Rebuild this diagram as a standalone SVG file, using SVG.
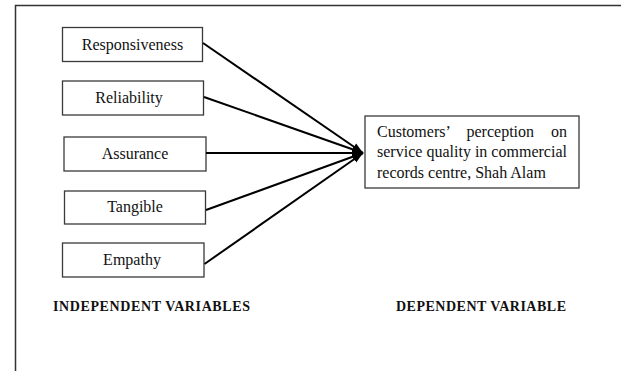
<svg xmlns="http://www.w3.org/2000/svg" width="621" height="371" viewBox="0 0 621 371">
  <style>
    .box { fill: #ffffff; stroke: #3a3a3a; stroke-width: 1.3; }
    .lbl { font-family: "Liberation Serif", "Times New Roman", serif; font-size: 16px; fill: #111111; }
    .mid { text-anchor: middle; }
    .hdr { font-family: "Liberation Serif", "Times New Roman", serif; font-size: 14px; font-weight: bold; fill: #111111; }
    .link { stroke: #000000; stroke-width: 2; fill: none; marker-end: url(#head); }
    .frame { stroke: #333333; stroke-width: 1.5; fill: none; }
  </style>
  <defs>
    <marker id="head" markerUnits="userSpaceOnUse" markerWidth="12" markerHeight="10" refX="11" refY="5" orient="auto">
      <path d="M0,1 L11,5 L0,9 Z" fill="#000000"/>
    </marker>
  </defs>

  <rect width="621" height="371" fill="#ffffff"/>

  <!-- page frame: top and left rules -->
  <path class="frame" d="M15.5,371 L15.5,5.5 L621,5.5"/>

  <!-- independent variables -->
  <g id="responsiveness">
    <rect class="box" x="62.5" y="27.5" width="140" height="34"/>
    <text class="lbl mid" x="132.5" y="49.5">Responsiveness</text>
  </g>
  <g id="reliability">
    <rect class="box" x="62.5" y="81" width="141" height="34"/>
    <text class="lbl mid" x="129" y="103.3">Reliability</text>
  </g>
  <g id="assurance">
    <rect class="box" x="64" y="137" width="142" height="34"/>
    <text class="lbl mid" x="135" y="158.5">Assurance</text>
  </g>
  <g id="tangible">
    <rect class="box" x="64.5" y="191" width="141" height="33"/>
    <text class="lbl mid" x="135" y="212">Tangible</text>
  </g>
  <g id="empathy">
    <rect class="box" x="62.5" y="243" width="141.5" height="34"/>
    <text class="lbl mid" x="132" y="264.5">Empathy</text>
  </g>

  <!-- dependent variable -->
  <g id="perception">
    <rect class="box" x="365" y="116" width="214" height="72"/>
    <text class="lbl" x="377" y="136.5">Customers’</text>
    <text class="lbl" x="466.5" y="136.5">perception</text>
    <text class="lbl" x="567" y="136.5" text-anchor="end">on</text>
    <text class="lbl" x="377" y="157" textLength="190" lengthAdjust="spacing">service quality in commercial</text>
    <text class="lbl" x="377" y="177.5">records centre, Shah Alam</text>
  </g>

  <!-- connectors -->
  <g id="connectors">
    <line class="link" x1="203" y1="43" x2="363" y2="153"/>
    <line class="link" x1="204" y1="97" x2="363" y2="153"/>
    <line class="link" x1="206" y1="153" x2="363" y2="153"/>
    <line class="link" x1="206" y1="210" x2="363" y2="153"/>
    <line class="link" x1="204.5" y1="264" x2="363" y2="153"/>
  </g>

  <!-- column captions -->
  <g id="captions">
    <text class="hdr" x="53" y="310.5" textLength="197" lengthAdjust="spacing">INDEPENDENT VARIABLES</text>
    <text class="hdr" x="396" y="310.5" textLength="170" lengthAdjust="spacing">DEPENDENT VARIABLE</text>
  </g>
</svg>
